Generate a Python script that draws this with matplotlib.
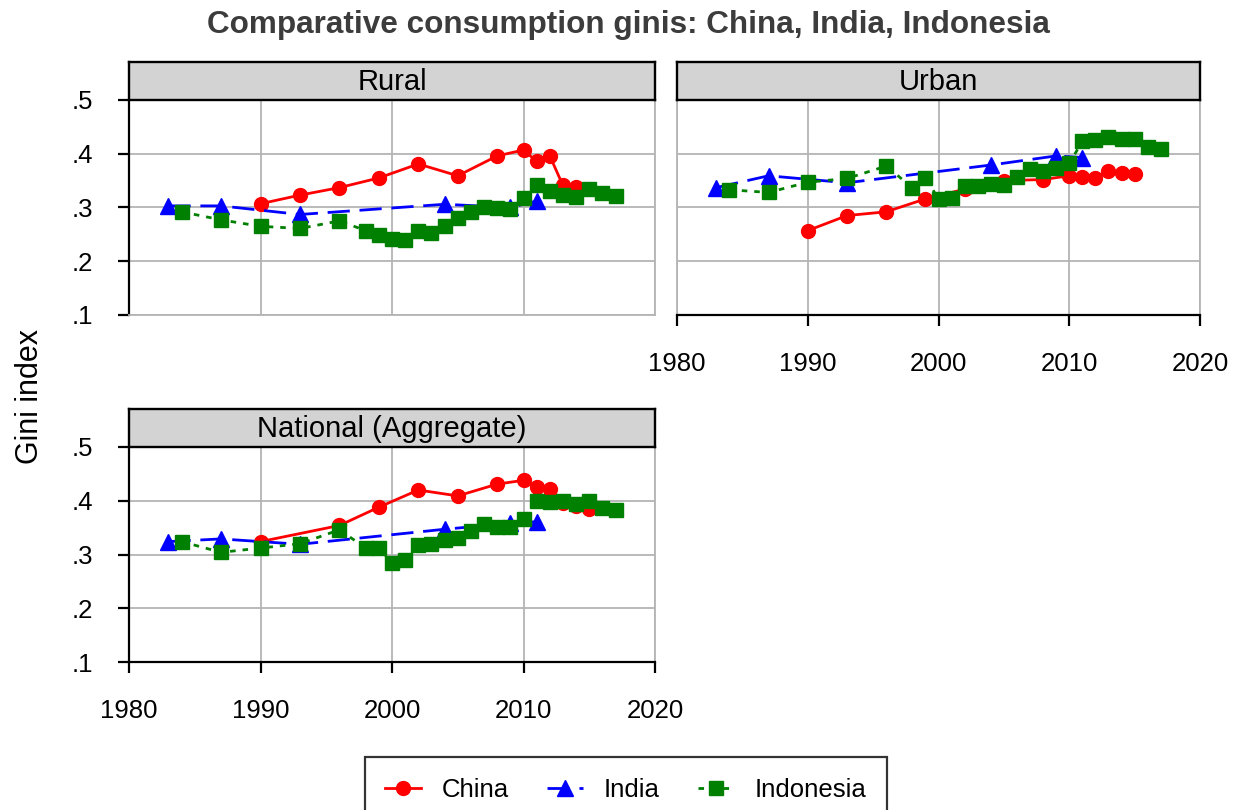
import numpy as np
import matplotlib.pyplot as plt
from matplotlib.ticker import FuncFormatter

plt.rcParams['font.family'] = ['Liberation Sans', 'DejaVu Sans']

# Rural
rural_china_yr = [1990, 1993, 1996, 1999, 2002, 2005, 2008, 2010, 2011, 2012, 2013, 2014]
rural_china = [0.307, 0.323, 0.337, 0.355, 0.381, 0.359, 0.396, 0.407, 0.386, 0.396, 0.341, 0.339]
rural_india_yr = [1983, 1987, 1993, 2004, 2009, 2011]
rural_india = [0.303, 0.303, 0.287, 0.306, 0.300, 0.312]
rural_indo_yr = [1984, 1987, 1990, 1993, 1996, 1998, 1999, 2000, 2001, 2002, 2003, 2004,
                 2005, 2006, 2007, 2008, 2009, 2010, 2011, 2012, 2013, 2014, 2015, 2016, 2017]
rural_indo = [0.292, 0.277, 0.265, 0.261, 0.275, 0.257, 0.248, 0.241, 0.239, 0.256, 0.253, 0.266,
              0.280, 0.291, 0.301, 0.299, 0.297, 0.317, 0.342, 0.331, 0.323, 0.320, 0.334, 0.327, 0.321]

# Urban
urban_china_yr = [1990, 1993, 1996, 1999, 2002, 2005, 2008, 2010, 2011, 2012, 2013, 2014, 2015]
urban_china = [0.257, 0.285, 0.292, 0.316, 0.334, 0.350, 0.352, 0.359, 0.356, 0.355, 0.368, 0.365, 0.362]
urban_india_yr = [1983, 1987, 1993, 2004, 2009, 2011]
urban_india = [0.337, 0.359, 0.346, 0.379, 0.396, 0.393]
urban_indo_yr = rural_indo_yr
urban_indo = [0.333, 0.328, 0.347, 0.354, 0.377, 0.337, 0.355, 0.316, 0.317, 0.340, 0.340, 0.343,
              0.341, 0.357, 0.371, 0.368, 0.374, 0.382, 0.423, 0.425, 0.432, 0.428, 0.428, 0.412, 0.408]

# National (aggregate)
nat_china_yr = [1990, 1996, 1999, 2002, 2005, 2008, 2010, 2011, 2012, 2013, 2014, 2015]
nat_china = [0.324, 0.354, 0.388, 0.420, 0.409, 0.431, 0.438, 0.425, 0.422, 0.395, 0.391, 0.385]
nat_india_yr = [1983, 1987, 1993, 2004, 2009, 2011]
nat_india = [0.324, 0.329, 0.319, 0.347, 0.358, 0.361]
nat_indo_yr = rural_indo_yr
nat_indo = [0.324, 0.304, 0.312, 0.320, 0.346, 0.312, 0.312, 0.285, 0.289, 0.317, 0.319, 0.327,
            0.330, 0.343, 0.357, 0.352, 0.351, 0.366, 0.399, 0.397, 0.400, 0.394, 0.399, 0.386, 0.382]

W, H = 1234, 810
fig = plt.figure(figsize=(W / 100, H / 100), dpi=100)

GRID = '#b4b4b4'


def rect(x0, x1, y0, y1):
    return [x0 / W, 1 - y1 / H, (x1 - x0) / W, (y1 - y0) / H]


def panel(px, py, title, data, ylab, xlab):
    ax = fig.add_axes(rect(px[0], px[1], py[0], py[1]))
    (cy, c), (iy, i), (dy, d) = data
    ax.plot(cy, c, '-', color='#ff0000', lw=2, marker='o', ms=10, label='China')
    ax.plot(iy, i, color='#0000ff', lw=2, ls=(0, (8, 3.5)), marker='^', ms=11, label='India')
    ax.plot(dy, d, color='#008000', lw=2, ls=(0, (2, 2.5)), marker='s', ms=9.5, label='Indonesia')
    ax.set_xlim(1980, 2020)
    ax.set_ylim(0.1, 0.5)
    ax.set_xticks([1980, 1990, 2000, 2010, 2020])
    ax.set_yticks([0.1, 0.2, 0.3, 0.4, 0.5])
    ax.grid(True, color=GRID, lw=1.3)
    ax.set_axisbelow(True)
    for s in ax.spines.values():
        s.set_color(GRID)
        s.set_linewidth(1.3)
    ax.yaxis.set_major_formatter(FuncFormatter(lambda v, p: ('%.1f' % v).lstrip('0')))
    ax.tick_params(axis='both', labelsize=18.5, length=8, width=1.6, color='black', direction='out')
    ax.tick_params(axis='y', pad=18)
    ax.tick_params(axis='x', pad=19)
    if ylab:
        ax.spines['left'].set_color('black')
        ax.spines['left'].set_linewidth(1.6)
    else:
        ax.tick_params(axis='y', left=False, labelleft=False)
    if xlab:
        ax.spines['bottom'].set_color('black')
        ax.spines['bottom'].set_linewidth(1.6)
    else:
        ax.tick_params(axis='x', bottom=False, labelbottom=False)
    # strip
    st = fig.add_axes(rect(px[0], px[1], py[0] - 38, py[0]))
    st.set_facecolor('#d3d3d3')
    st.set_xticks([])
    st.set_yticks([])
    for s in st.spines.values():
        s.set_color('black')
        s.set_linewidth(1.7)
    st.text(0.5, 0.47, title, ha='center', va='center', fontsize=21, transform=st.transAxes)
    return ax


ax1 = panel((129, 655), (100, 315), 'Rural',
            [(rural_china_yr, rural_china), (rural_india_yr, rural_india), (rural_indo_yr, rural_indo)],
            True, False)
ax2 = panel((677, 1200), (100, 315), 'Urban',
            [(urban_china_yr, urban_china), (urban_india_yr, urban_india), (urban_indo_yr, urban_indo)],
            False, True)
ax3 = panel((129, 655), (447, 662), 'National (Aggregate)',
            [(nat_china_yr, nat_china), (nat_india_yr, nat_india), (nat_indo_yr, nat_indo)],
            True, True)

fig.text(628 / W, 1 - 25 / H, 'Comparative consumption ginis: China, India, Indonesia',
         ha='center', va='center', fontsize=22.7, fontweight='bold', color='#3c3c3c')
fig.text(30 / W, 1 - 397 / H, 'Gini index', ha='center', va='center', rotation=90, fontsize=22)

h, l = ax3.get_legend_handles_labels()
leg = fig.legend(h, l, loc='upper center', bbox_to_anchor=(626 / W, 1 - 757 / H), ncol=3,
                 fontsize=18.5, frameon=True, fancybox=False, edgecolor='black',
                 borderaxespad=0, handlelength=1.4, handletextpad=0.8, columnspacing=1.5,
                 borderpad=0.8)
leg.get_frame().set_linewidth(1.6)

fig.savefig('out.png', dpi=100)
